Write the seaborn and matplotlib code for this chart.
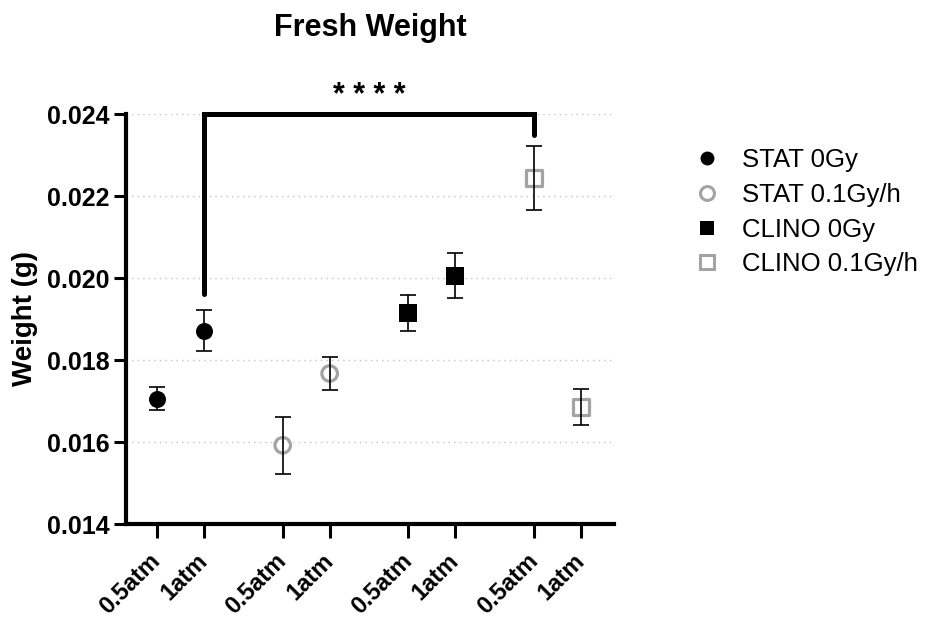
import matplotlib
matplotlib.use("Agg")
import matplotlib.pyplot as plt
from matplotlib.lines import Line2D
import seaborn as sns
import pandas as pd

# ---- data ----
groups = ["STAT 0Gy", "STAT 0.1Gy/h", "CLINO 0Gy", "CLINO 0.1Gy/h"]
pressures = ["0.5atm", "1atm"]
stat_0gy = [0.01706, 0.01871]
stat_01gy = [0.01592, 0.01767]
clino_0gy = [0.01915, 0.02006]
clino_01gy = [0.02244, 0.01686]
stat_0gy_err = [0.00029, 0.00050]
stat_01gy_err = [0.00070, 0.00040]
clino_0gy_err = [0.00044, 0.00055]
clino_01gy_err = [0.00078, 0.00044]
x_pos = [0, 1, 2.68, 3.68, 5.36, 6.36, 8.04, 9.04]
yticks = [0.014, 0.016, 0.018, 0.020, 0.022, 0.024]
sig_label = "* * * *"

means = [stat_0gy, stat_01gy, clino_0gy, clino_01gy]
errs = [stat_0gy_err, stat_01gy_err, clino_0gy_err, clino_01gy_err]
rows = []
for gi, g in enumerate(groups):
    for pi, p in enumerate(pressures):
        rows.append({"group": g, "pressure": p, "x": x_pos[gi * 2 + pi],
                     "mean": means[gi][pi], "err": errs[gi][pi]})
df = pd.DataFrame(rows)

gray = "#a3a3a3"
styles = {
    "STAT 0Gy": dict(marker="o", face="black", edge="black"),
    "STAT 0.1Gy/h": dict(marker="o", face="none", edge=gray),
    "CLINO 0Gy": dict(marker="s", face="black", edge="black"),
    "CLINO 0.1Gy/h": dict(marker="s", face="none", edge=gray),
}

sns.set_style("ticks")
plt.rcParams["font.family"] = ["Liberation Sans", "DejaVu Sans"]
for k in ["text.color", "axes.labelcolor", "xtick.color", "ytick.color", "axes.edgecolor"]:
    plt.rcParams[k] = "black"

fig = plt.figure(figsize=(9.28, 6.19), dpi=100)
ax = fig.add_axes([126 / 928, 1 - 524 / 619, (614 - 126) / 928, (524 - 114) / 619])

for g in groups:
    sub = df[df["group"] == g]
    st = styles[g]
    filled = st["face"] != "none"
    sns.scatterplot(data=sub, x="x", y="mean", ax=ax, marker=st["marker"],
                    s=150 if filled else 125,
                    facecolor=st["face"], edgecolor=st["edge"],
                    linewidth=0 if filled else 2.3, zorder=3, legend=False)
    ax.errorbar(sub["x"], sub["mean"], yerr=sub["err"], fmt="none",
                ecolor="black", elinewidth=1.2, capsize=6, capthick=1.2, zorder=4)

ax.set_xlim(-0.66, 9.74)
ax.set_ylim(0.014, 0.024)
ax.set_yticks(yticks)
ax.set_yticklabels([f"{v:.3f}" for v in yticks], fontsize=18, fontweight="bold")
ax.set_xticks(df["x"])
ax.set_xticklabels(df["pressure"], fontsize=17, fontweight="bold",
                   rotation=45, ha="right", va="center", rotation_mode="anchor")
ax.tick_params(axis="y", length=9, width=2.2, pad=3)
ax.tick_params(axis="x", length=10, width=2.2, pad=14)
for s in ["top", "right"]:
    ax.spines[s].set_visible(False)
for s in ["left", "bottom"]:
    ax.spines[s].set_linewidth(3)
ax.yaxis.grid(True, linestyle=(0, (1, 3)), color="#c4c4c4", linewidth=1)
ax.set_axisbelow(True)
ax.set_xlabel("")
ax.set_ylabel("Weight (g)", fontsize=20, fontweight="bold", labelpad=6)

# significance bracket
left_x, right_x = x_pos[1], x_pos[6]
ax.plot([left_x, left_x, right_x, right_x], [0.01962, 0.024, 0.024, 0.02348],
        color="black", lw=3.6, clip_on=False, solid_joinstyle="miter", zorder=5)
ax.text((left_x + right_x) / 2, 0.02444, sig_label, ha="center", va="center",
        fontsize=22, fontweight="bold", clip_on=False)

fig.text(370 / 928, 1 - 28 / 619, "Fresh Weight", ha="center", va="center",
         fontsize=22, fontweight="bold")

handles = []
for g in groups:
    st = styles[g]
    handles.append(Line2D([], [], linestyle="none", marker=st["marker"], markersize=10,
                          markerfacecolor=st["face"] if st["face"] != "none" else "white",
                          markeredgecolor=st["edge"],
                          markeredgewidth=0 if st["face"] != "none" else 2.2))
fig.legend(handles, groups, loc="upper left", bbox_to_anchor=(694 / 928, 1 - 148 / 619),
           frameon=False, fontsize=18.5, handlelength=1.0, handletextpad=0.85,
           labelspacing=0.42, borderpad=0, borderaxespad=0)

fig.savefig("out.png", dpi=100)
